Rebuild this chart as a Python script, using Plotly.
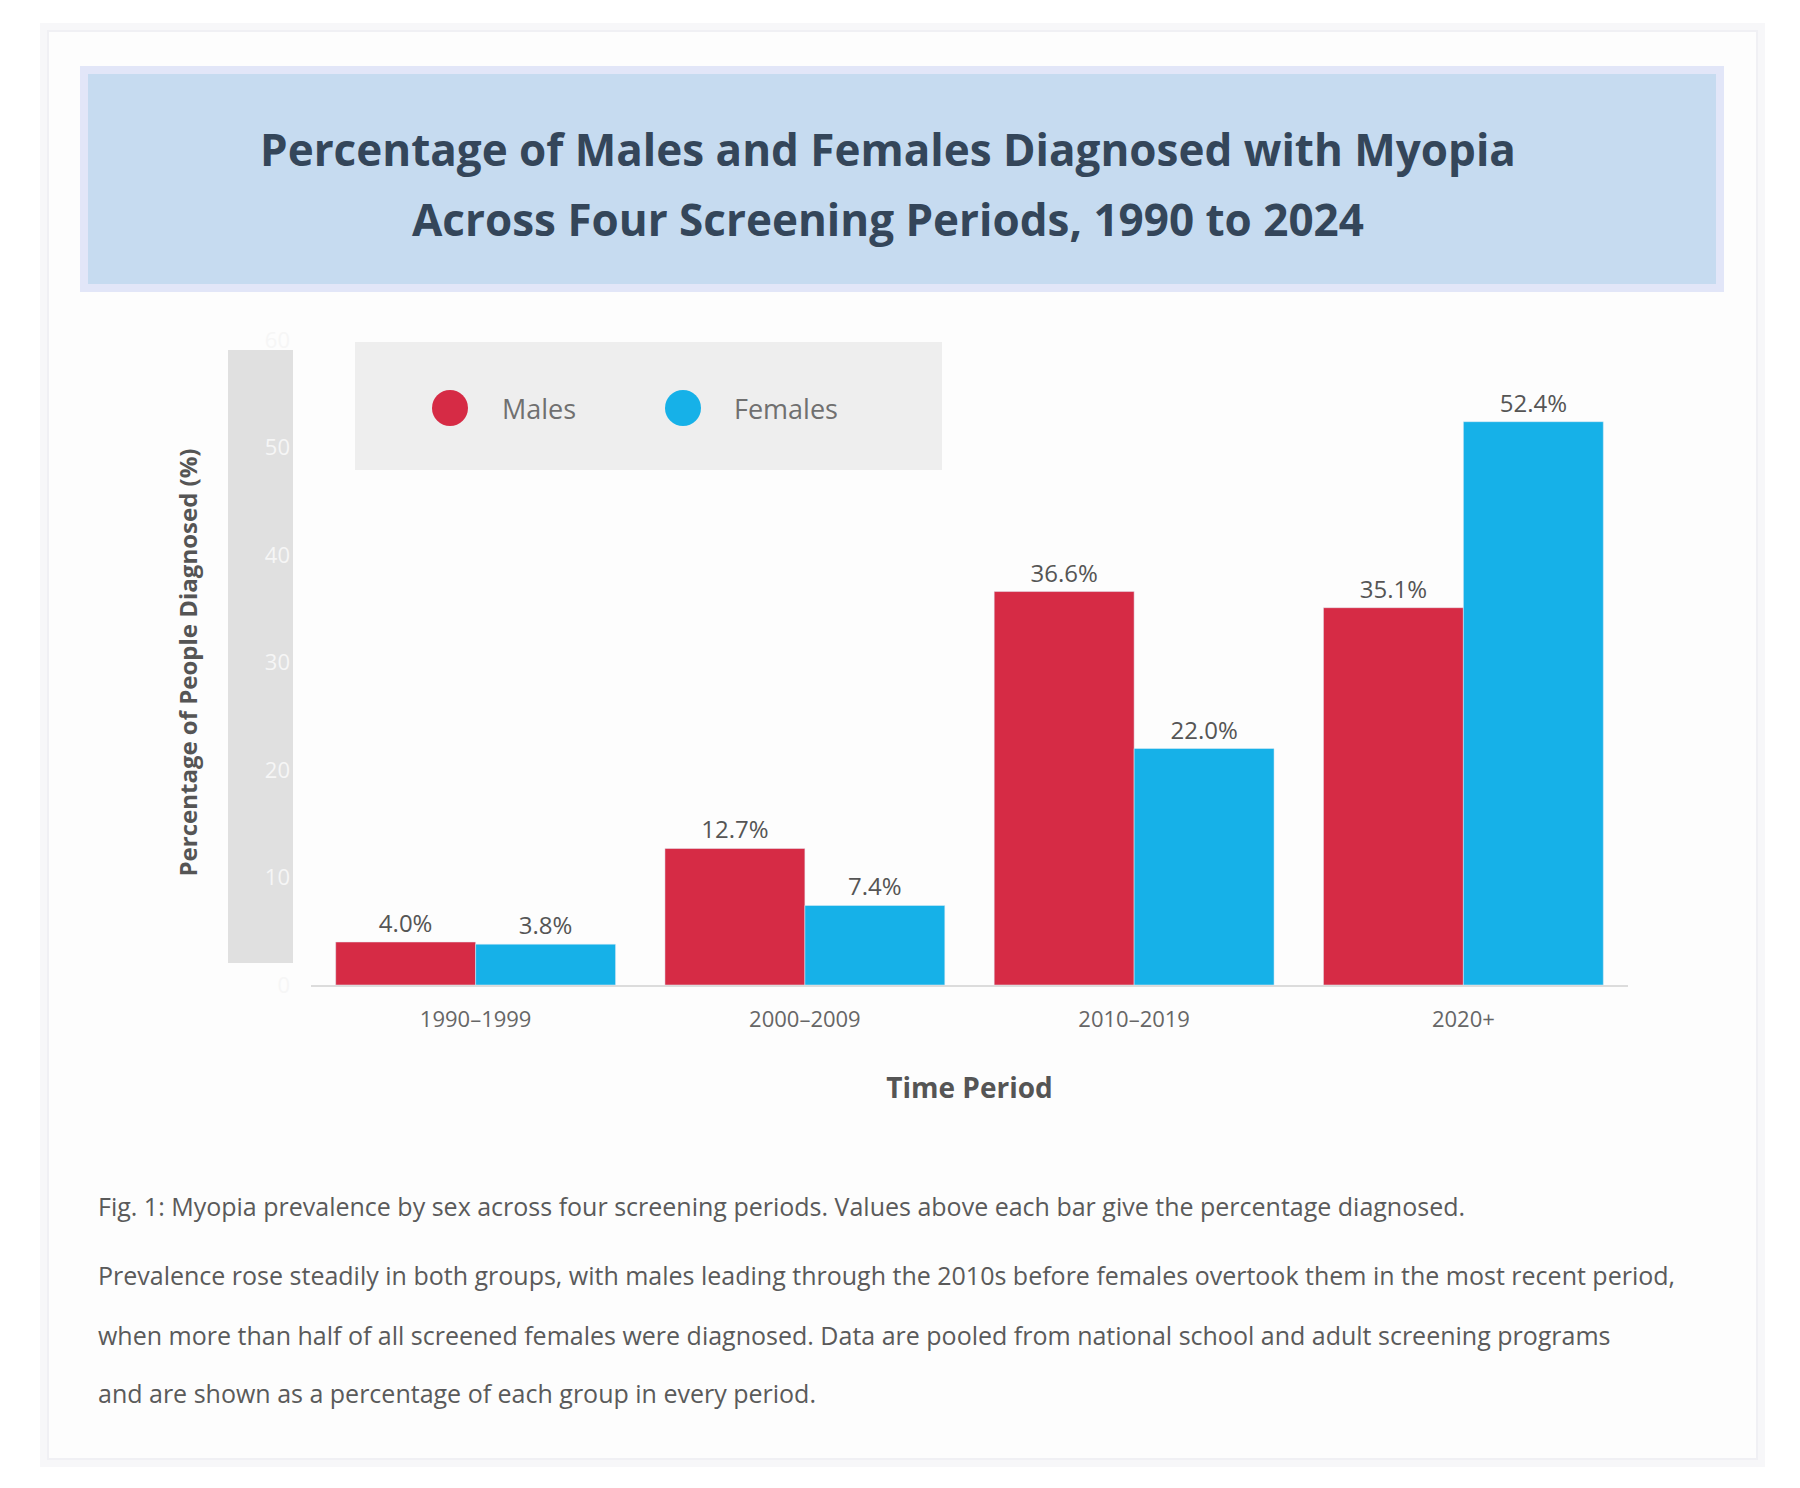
import plotly.graph_objects as go

# ---- data ----
periods = ["1990–1999", "2000–2009", "2010–2019", "2020+"]
males = [4.0, 12.7, 36.6, 35.1]
females = [3.8, 7.4, 22.0, 52.4]
series_names = ["Males", "Females"]
y_ticks = [0, 10, 20, 30, 40, 50, 60]

title_lines = ["Percentage of Males and Females Diagnosed with Myopia",
               "Across Four Screening Periods, 1990 to 2024"]
caption_lines = [
    "Fig. 1: Myopia prevalence by sex across four screening periods. Values above each bar give the percentage diagnosed.",
    "Prevalence rose steadily in both groups, with males leading through the 2010s before females overtook them in the most recent period,",
    "when more than half of all screened females were diagnosed. Data are pooled from national school and adult screening programs",
    "and are shown as a percentage of each group in every period.",
]

RED, BLUE = "#d62b45", "#16b1e8"
FONT = "Open Sans, Arial, sans-serif"

W, H = 1800, 1488
L, R, T, B = 303, 180, 332, 511
PW, PH = W - L - R, H - T - B


def px(x):
    return (x - L) / PW


def py(y):
    return (H - B - y) / PH


fig = go.Figure()
fig.add_trace(go.Bar(
    name=series_names[0], x=periods, y=males, marker_color=RED, showlegend=False,
    text=[f"{v:.1f}%" for v in males], textposition="outside", cliponaxis=False,
    textfont=dict(size=24, color="#555555", family=FONT)))
fig.add_trace(go.Bar(
    name=series_names[1], x=periods, y=females, marker_color=BLUE, showlegend=False,
    text=[f"{v:.1f}%" for v in females], textposition="outside", cliponaxis=False,
    textfont=dict(size=24, color="#555555", family=FONT)))

shapes = [
    # card + soft shadow
    dict(type="rect", x0=px(32), x1=px(1757), y0=py(15), y1=py(1459),
         fillcolor="#f7f7f9", line=dict(width=0), layer="below"),
    dict(type="rect", x0=px(40), x1=px(1749), y0=py(23), y1=py(1451),
         fillcolor="#fdfdfd", line=dict(color="#f0f0f4", width=2), layer="below"),
    # title banner
    dict(type="rect", x0=px(76), x1=px(1712), y0=py(62), y1=py(280),
         fillcolor="#c6dbf0", line=dict(color="#e2e6f8", width=8), layer="below"),
    # y tick band
    dict(type="rect", x0=px(220), x1=px(285), y0=py(342), y1=py(955),
         fillcolor="#e0e0e0", line=dict(width=0), layer="below"),
    # legend box
    dict(type="rect", x0=px(347), x1=px(934), y0=py(334), y1=py(462),
         fillcolor="#eeeeee", line=dict(width=0), layer="below"),
    dict(type="circle", x0=px(424), x1=px(460), y0=py(382), y1=py(418),
         fillcolor=RED, line=dict(width=0)),
    dict(type="circle", x0=px(657), x1=px(693), y0=py(382), y1=py(418),
         fillcolor=BLUE, line=dict(width=0)),
]

annotations = [
    dict(text=f"<b>{title_lines[0]}</b>", x=px(880), y=py(141), showarrow=False,
         xanchor="center", yanchor="middle", font=dict(size=44, color="#34465a", family=FONT)),
    dict(text=f"<b>{title_lines[1]}</b>", x=px(880), y=py(211), showarrow=False,
         xanchor="center", yanchor="middle", font=dict(size=44, color="#34465a", family=FONT)),
    dict(text=series_names[0], x=px(492), y=py(400), showarrow=False,
         xanchor="left", yanchor="middle", font=dict(size=27, color="#707070", family=FONT)),
    dict(text=series_names[1], x=px(724), y=py(400), showarrow=False,
         xanchor="left", yanchor="middle", font=dict(size=27, color="#707070", family=FONT)),
]
for line, yy in zip(caption_lines, [1198, 1267, 1327, 1385]):
    annotations.append(dict(
        text=line, x=px(88), y=py(yy), showarrow=False,
        xanchor="left", yanchor="middle", font=dict(size=25, color="#5a5a5a", family=FONT)))

for a in annotations:
    a.update(xref="paper", yref="paper")
for s in shapes:
    s.update(xref="paper", yref="paper")

fig.update_layout(
    width=W, height=H, margin=dict(l=L, r=R, t=T, b=B, autoexpand=False),
    paper_bgcolor="white", plot_bgcolor="rgba(0,0,0,0)",
    barmode="group", bargap=0.15, bargroupgap=0,
    font=dict(family=FONT, color="#555555"),
    shapes=shapes, annotations=annotations, showlegend=False,
    xaxis=dict(showgrid=False, zeroline=False, showline=True, linecolor="#dcdcdc", linewidth=2,
               tickfont=dict(size=22, color="#666666"), ticklabelstandoff=14,
               title=dict(text="<b>Time Period</b>", font=dict(size=28, color="#555555"), standoff=46)),
    yaxis=dict(range=[0, 60], tickvals=y_ticks, showgrid=False, zeroline=False, showline=False,
               tickfont=dict(size=22, color="#f6f6f6"), ticklabelstandoff=20,
               title=dict(text="<b>Percentage of People Diagnosed (%)</b>",
                          font=dict(size=24, color="#555555"), standoff=60)),
)

fig.write_html("out.html")
